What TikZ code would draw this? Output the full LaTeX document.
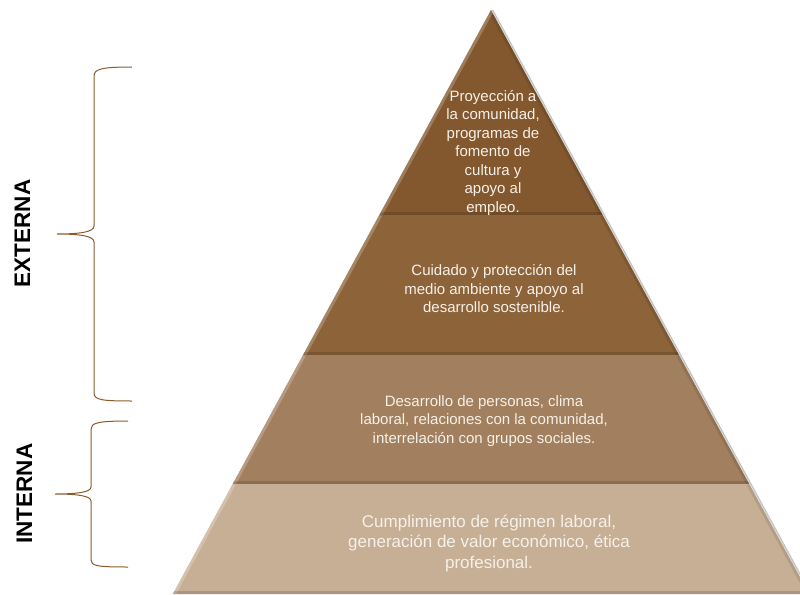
\documentclass[tikz,border=0pt]{standalone}
\usepackage{fontspec}
\setmainfont{Liberation Sans}
\usepackage{tikz}
\usetikzlibrary{positioning}

\definecolor{capaA}{HTML}{83582F}
\definecolor{capaB}{HTML}{8D633A}
\definecolor{capaC}{HTML}{A2805F}
\definecolor{capaD}{HTML}{C7AF96}
\definecolor{letra}{HTML}{F6F0E8}
\definecolor{llavecol}{HTML}{8B5A2B}

\tikzset{
  txt/.style={text=letra, align=center, inner sep=0pt,
    font=\fontsize{15}{18.5}\selectfont},
  lado/.style={rotate=90, inner sep=0pt,
    font=\fontsize{22.5}{26}\selectfont\bfseries},
  llave/.style={draw=llavecol, line width=1pt}
}

\begin{document}
\begin{tikzpicture}[x=1pt,y=-1pt]
    \useasboundingbox (0,0) rectangle (800,594);
    \clip (0,0) rectangle (800,594);
    % capas de la piramide
    \foreach \ya/\yb/\col in {10/215/capaA, 215/355/capaB, 355/484/capaC, 484/594/capaD}
    {
        \pgfmathsetmacro\la{491-0.545*(\ya-10)}
        \pgfmathsetmacro\ra{491+0.545*(\ya-10)}
        \pgfmathsetmacro\lb{491-0.545*(\yb-10)}
        \pgfmathsetmacro\rb{491+0.545*(\yb-10)}
        \draw[gray!45, line width=1.5pt] (\ra+1.5,\ya) -- (\rb+1.5,\yb);
        \fill[\col] (\la,\ya) -- (\ra,\ya) -- (\rb,\yb) -- (\lb,\yb) -- cycle;
        \begin{scope}
            \clip (\la,\ya) -- (\ra,\ya) -- (\rb,\yb) -- (\lb,\yb) -- cycle;
            \draw[white, opacity=0.22, line width=6pt] (\lb,\yb) -- (\la,\ya);
            \draw[black, opacity=0.10, line width=6pt] (\rb,\yb) -- (\ra,\ya);
            \draw[black, opacity=0.14, line width=6pt] (\lb,\yb) -- (\rb,\yb);
        \end{scope}
    }
    % textos
    \node[txt] (cima) at (493,153) {Proyecci\'on a\\la comunidad,\\programas de\\fomento de\\cultura y\\apoyo al\\empleo.};
    \node[txt] (ambiente) at (494,289) {Cuidado y protecci\'on del\\medio ambiente y apoyo al\\desarrollo sostenible.};
    \node[txt] (social) at (484,421) {Desarrollo de personas, clima\\laboral, relaciones con la comunidad,\\interrelaci\'on con grupos sociales.};
    \node[txt, font=\fontsize{17}{20.5}\selectfont] (base) at (489,543) {Cumplimiento de r\'egimen laboral,\\generaci\'on de valor econ\'omico, \'etica\\profesional.};
    % llaves
    \draw[llave] (132,67) .. controls (102,67) and (94,69) .. (94,76) -- (94,226)
        .. controls (94,232) and (80,234) .. (57,234)
        .. controls (80,234) and (94,236) .. (94,242) -- (94,393)
        .. controls (94,400) and (102,401) .. (132,401);
    \draw[llave] (128,421) .. controls (98,421) and (91,423) .. (91,429) -- (91,487)
        .. controls (91,492) and (78,494) .. (55,494)
        .. controls (78,494) and (91,496) .. (91,501) -- (91,560)
        .. controls (91,566) and (98,567) .. (128,567);
    \node[lado] (externa) at (22.5,233.5) {EXTERNA};
    \node[lado] (interna) at (24.5,493.5) {INTERNA};
\end{tikzpicture}
\end{document}
